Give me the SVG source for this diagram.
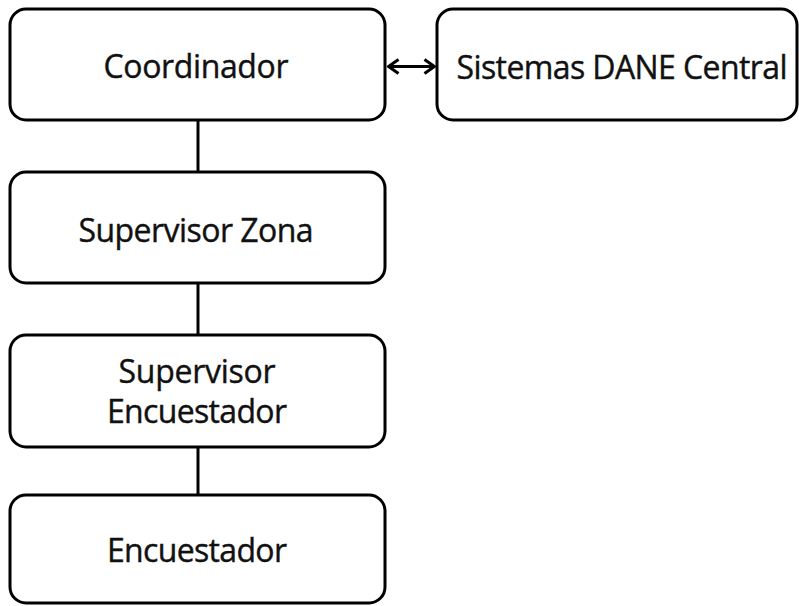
<svg xmlns="http://www.w3.org/2000/svg" width="799" height="606" viewBox="0 0 799 606">
<style>
.box{fill:#fff;stroke:#000;stroke-width:3}
.lbl{font-family:"Open Sans","Noto Sans",sans-serif;font-size:32px;fill:#111;text-anchor:middle;stroke:#111;stroke-width:0.4}
.conn{stroke:#000;stroke-width:3;fill:none}
</style>
<defs>
<marker id="ah" viewBox="0 0 14 18" refX="12.5" refY="9" markerWidth="14" markerHeight="18" markerUnits="userSpaceOnUse" orient="auto-start-reverse">
<path d="M2,2 L12,9 L2,16" fill="none" stroke="#000" stroke-width="3"/>
</marker>
</defs>
<rect width="799" height="606" fill="#fff"/>
<g id="connectors">
<line class="conn" x1="198" y1="120" x2="198" y2="172"/>
<line class="conn" x1="198" y1="283" x2="198" y2="335"/>
<line class="conn" x1="198" y1="447" x2="198" y2="495"/>
<line class="conn" x1="388" y1="66.5" x2="435" y2="66.5" marker-start="url(#ah)" marker-end="url(#ah)"/>
</g>
<g id="coordinador">
<rect class="box" x="10" y="9" width="375" height="111" rx="16"/>
<text class="lbl" x="196" y="78" textLength="185">Coordinador</text>
</g>
<g id="sistemas">
<rect class="box" x="437" y="9" width="360" height="111" rx="16"/>
<text class="lbl" x="622" y="79" textLength="331">Sistemas DANE Central</text>
</g>
<g id="supervisor-zona">
<rect class="box" x="10" y="172" width="375" height="111" rx="16"/>
<text class="lbl" x="196" y="242" textLength="235">Supervisor Zona</text>
</g>
<g id="supervisor-encuestador">
<rect class="box" x="10" y="335" width="375" height="112" rx="16"/>
<text class="lbl" x="197" y="383" textLength="157">Supervisor</text>
<text class="lbl" x="197" y="423" textLength="180">Encuestador</text>
</g>
<g id="encuestador">
<rect class="box" x="10" y="495" width="375" height="108" rx="16"/>
<text class="lbl" x="197" y="562" textLength="180">Encuestador</text>
</g>
</svg>
